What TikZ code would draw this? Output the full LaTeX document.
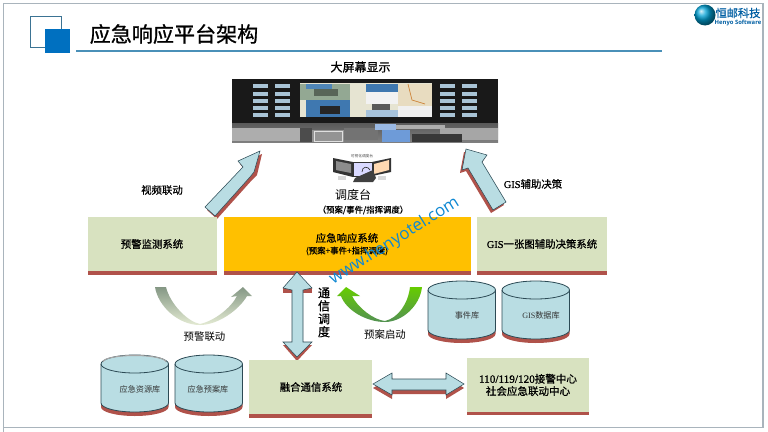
\documentclass[tikz,border=0pt]{standalone}
\usepackage{fontspec}
\setmainfont{Liberation Serif}
\newfontfamily\cjk{Noto Sans CJK SC}
\newfontfamily\cjkm[FakeBold=0.8]{Noto Sans CJK SC}
\newfontfamily\serifm[FakeBold=0.8]{Liberation Serif}
\newfontfamily\wm{Open Sans}
\usetikzlibrary{shadings}
\definecolor{boxgreen}{HTML}{D8E2C0}
\definecolor{barred}{HTML}{B0524A}
\definecolor{orangebox}{HTML}{FFC000}
\definecolor{aqua}{HTML}{B9DDE3}
\definecolor{edge}{HTML}{2C4A55}
\definecolor{corpblue}{HTML}{0070C0}
\definecolor{rule}{HTML}{4A90B8}
\definecolor{framegray}{HTML}{A9B4BC}
\definecolor{tile}{HTML}{A9C4D6}
\definecolor{photogreen}{HTML}{93A893}
\definecolor{skyblue}{HTML}{4F86B8}
\definecolor{deepsky}{HTML}{3F78B0}
\definecolor{mappale}{HTML}{E6E4D2}
\definecolor{mapwarm}{HTML}{E8DCC0}
\definecolor{bandblue}{HTML}{6E9BD8}
\newcommand{\cylshape}[3]{%
  \fill[barred] (#1,#2+10) -- (#1,#3-5) arc[start angle=180,end angle=0,x radius=33.75,y radius=9] -- (#1+67.5,#2+10) -- cycle;
  \filldraw[fill=aqua,draw=edge,line width=0.6pt] (#1,#2+9) -- (#1,#3-9) arc[start angle=180,end angle=0,x radius=33.75,y radius=9] -- (#1+67.5,#2+9) arc[start angle=360,end angle=180,x radius=33.75,y radius=9] -- cycle;
  \draw[edge,line width=0.6pt] (#1,#2+9) arc[start angle=180,end angle=0,x radius=33.75,y radius=9];
}
\tikzset{
  x=0.75pt,y=-0.75pt,
  boxlabel/.style={font=\cjkm\fontsize{7.8pt}{9.4pt}\selectfont,text=black,align=center,inner sep=0pt},
  plainlabel/.style={font=\cjk\fontsize{7.8pt}{9.4pt}\selectfont,text=black,align=center,inner sep=0pt},
  sublabel/.style={font=\cjkm\fontsize{6.3pt}{7pt}\selectfont,text=black,inner sep=0pt},
  dblabel/.style={font=\cjk\fontsize{6.1pt}{7pt}\selectfont,text=black!80,inner sep=0pt},
  blockarrow/.style={fill=aqua,draw=edge,line width=0.4pt,line join=miter},
  arrowshadow/.style={fill=barred},
}
\begin{document}
\begin{tikzpicture}
\useasboundingbox (0,0) rectangle (768,432);
\fill[white] (0,0) rectangle (768,432);
% frame
\draw[framegray,line width=0.9pt] (3.5,432) -- (3.5,3.5) -- (763,3.5) -- (763,427.5) -- (3.5,427.5);
% title decoration
\draw[rule!80!black,line width=0.6pt,fill=white] (30,16) rectangle (61,47);
\fill[corpblue] (45,29) rectangle (70,53);
\draw[rule,line width=1.2pt] (76,51) -- (662,51);
\node[font=\cjkm\fontsize{15.8pt}{18pt}\selectfont,inner sep=0pt,anchor=center] (title) at (174,34) {应急响应平台架构};
% logo
\shade[ball color=cyan!35!corpblue] (705,15) circle[radius=10.5];
\node[font=\cjkm\fontsize{8.4pt}{10pt}\selectfont,text=corpblue!85!black,inner sep=0pt] (logocn) at (738,13) {恒邮科技};
\node[font=\wm\bfseries\fontsize{4.4pt}{5pt}\selectfont,text=corpblue!85!black,inner sep=0pt] (logoen) at (738,23) {Henyo Software};
% big screen
\node[boxlabel,font=\cjkm\fontsize{9pt}{10pt}\selectfont] (screenlabel) at (360.5,67) {大屏幕显示};
\fill[black!90] (232,79) rectangle (498,123);
\shade[top color=black!65,bottom color=black!50] (232,123) rectangle (498,142);
\fill[black!32] (232,128) rectangle (300,141);
\fill[black!70] (300,128) rectangle (312,142);
\fill[black!42] (312,130) rectangle (344,142);
\draw[black!12,line width=0.5pt] (314,131) rectangle (342,141);
\fill[black!55] (344,128) rectangle (378,140);
\fill[black!35] (440,128) rectangle (498,140);
\fill[black!78] (412,134) rectangle (462,142);
\fill[bandblue!70] (375,124) rectangle (396,130);
\fill[bandblue] (382,130) rectangle (410,142);
\fill[black!32] (396,125) rectangle (445,129);
% small tiles
\foreach \yy in {84,91.5,99,106,113}{
  \fill[tile] (253,\yy) rectangle ++(15,4);
  \fill[tile] (275,\yy) rectangle ++(15,4);
  \fill[tile] (440,\yy) rectangle ++(15,4);
  \fill[tile] (462,\yy) rectangle ++(15,4);
}
% mosaic
\fill[mappale] (300,83) rectangle (432,117);
\fill[photogreen] (300,84) rectangle (350,100);
\fill[skyblue] (306,84) rectangle (332,89);
\fill[photogreen!60!black] (314,89) rectangle (338,96);
\fill[deepsky] (306,100) rectangle (350,117);
\fill[black!85] (320,106) rectangle (340,114);
\fill[mappale] (350,84) rectangle (366,117);
\fill[deepsky] (366,84) rectangle (398,92);
\fill[white!90!gray] (366,92) rectangle (398,104);
\fill[black!65] (372,104) rectangle (390,110);
\fill[skyblue!50] (366,110) rectangle (398,117);
\fill[mapwarm] (398,84) rectangle (432,106);
\draw[orange!60!gray,line width=0.5pt] (408,84) -- (412,100) -- (425,104);
\fill[white!88!gray] (398,106) rectangle (432,117);
% arrows to screen
\fill[arrowshadow] (262,154) -- (240,164) -- (245,170) -- (207,210) -- (217,219) -- (252,180) -- (257,175) -- cycle;
\draw[blockarrow] (260,151) -- (238,161) -- (243,167) -- (205,207) -- (215,216) -- (250,177) -- (254,172) -- cycle;
\fill[arrowshadow] (464,152) -- (485,158) -- (480,165) -- (504,205) -- (491,213) -- (466,171) -- (460,173) -- cycle;
\draw[blockarrow] (466,149) -- (487,155) -- (482,162) -- (506,202) -- (493,210) -- (468,168) -- (462,170) -- cycle;
% console icon
\node[font=\cjk\fontsize{2.8pt}{3pt}\selectfont,text=black!70,inner sep=0pt] (consolecap) at (362,156) {可视化调度台};
\fill[black!80] (333,158) -- (353,162) -- (353,177) -- (333,172) -- cycle;
\fill[black!45] (336,161) -- (351,164) -- (351,173) -- (336,170) -- cycle;
\fill[blue!15!white] (353,162) rectangle (372,176);
\draw[black!80,line width=0.4pt] (353,162) rectangle (372,176);
\fill[black!80] (372,162) -- (391,158) -- (391,172) -- (372,176) -- cycle;
\fill[white!70!orange] (374,164) -- (389,160) -- (389,170) -- (374,174) -- cycle;
\fill[black!75] (355,178) -- (373,170) -- (376,178) -- (373,182) -- (353,182) -- cycle;
\draw[black!80,line width=0.5pt] (362,172) .. controls (362,166) and (368,166) .. (370,170);
\fill[black!15] (338,176) rectangle (346,180);
\fill[black!15] (378,176) rectangle (386,180);
\node[font=\cjk\fontsize{9pt}{10pt}\selectfont,inner sep=0pt] (console) at (353,195) {调度台};
\node[sublabel] (consolesub) at (363,210) {（预案/事件/指挥调度）};
% edge labels top
\node[boxlabel] (videolink) at (162,190) {视频联动};
\node[boxlabel] (gisaid) at (533,184) {\serifm GIS\cjkm 辅助决策};
% main row boxes
\fill[boxgreen] (88,217) rectangle (217,271);
\fill[barred] (88,271) rectangle (217,275);
\node[boxlabel] (warn) at (152,244) {预警监测系统};
\fill[orangebox] (224,217) rectangle (471,271);
\fill[barred] (224,271) rectangle (471,275);
\node[boxlabel] (resp) at (347,238) {应急响应系统};
\node[sublabel] (respsub) at (347,251) {(预案+事件+指挥调度)};
\fill[boxgreen] (477,217) rectangle (607,271);
\fill[barred] (477,271) rectangle (607,275);
\node[boxlabel] (gis) at (542,244) {\serifm GIS\cjkm 一张图辅助决策系统};
% curved arrows
\shade[left color=photogreen!90!black,middle color=photogreen!70!black,right color=boxgreen!70!white,shading angle=0]
  (155,287) -- (166,287) .. controls (170,304) and (188,322) .. (200,324)
  .. controls (214,321) and (231,308) .. (237,296) -- (231,297) -- (243,287) -- (252,296) -- (247,296)
  .. controls (239,310) and (218,325) .. (200,325) .. controls (178,325) and (158,306) .. (155,287) -- cycle;
\shade[left color=green!50!yellow!80!black,middle color=green!50!black!80,right color=black!30!green!35!gray,shading angle=0]
  (410,287) -- (422,287) .. controls (420,306) and (402,322) .. (385,322)
  .. controls (366,322) and (346,310) .. (341,296) -- (337,296) -- (346,287) -- (360,296) -- (352,296)
  .. controls (358,308) and (374,320) .. (385,321) .. controls (398,318) and (408,304) .. (410,287) -- cycle;
\node[plainlabel] (warnlink) at (204.5,337) {预警联动};
\node[plainlabel] (planstart) at (385,335) {预案启动};
% vertical double arrow
\fill[arrowshadow] (297,361) -- (283,345) -- (312,345) -- cycle;
\fill[arrowshadow] (283,288) rectangle (292,293);
\fill[arrowshadow] (303,288) rectangle (312,293);
\draw[blockarrow] (297,272) -- (312,288) -- (303,290) -- (303,342) -- (312,342) -- (297,357) -- (283,342) -- (292,342) -- (292,290) -- (283,288) -- cycle;
\node[boxlabel,text width=12pt,font=\cjkm\fontsize{9pt}{9.75pt}\selectfont] (comm) at (324,312.5) {通\\信\\调\\度};
% cylinders
\cylshape{101}{355}{412}
\draw[black!35,line width=0.8pt] (103,362) arc[start angle=180,end angle=360,x radius=31.5,y radius=6.5];
\cylshape{175}{355}{412}
\cylshape{428}{281}{339}
\cylshape{502}{281}{339}
\node[dblabel] (db1) at (140,389) {应急资源库};
\node[dblabel] (db2) at (208,389) {应急预案库};
\node[dblabel] (db3) at (467,315) {事件库};
\node[dblabel] (db4) at (541,315) {\fontspec{Liberation Serif}GIS\cjk 数据库};
% bottom boxes
\fill[boxgreen] (249,360) rectangle (372,414);
\fill[barred] (249,414) rectangle (372,418);
\node[boxlabel] (fusion) at (311,387) {融合通信系统};
\fill[boxgreen] (467,358) rectangle (589,412);
\fill[barred] (467,412) rectangle (589,415);
\node[boxlabel,font=\cjkm\fontsize{7.9pt}{9.2pt}\selectfont] (center) at (528,385) {{\serifm\fontsize{8.4pt}{9.2pt}\selectfont 110/119/120}\cjkm 接警中心\\社会应急联动中心};
% horizontal double arrow
\fill[arrowshadow] (373,388) -- (392,377) -- (392,383) -- (446,383) -- (446,377) -- (464,388) -- (446,399) -- (446,394) -- (392,394) -- (392,399) -- cycle;
\draw[blockarrow] (373,384) -- (392,373) -- (392,379) -- (446,379) -- (446,373) -- (464,384) -- (446,395) -- (446,390) -- (392,390) -- (392,395) -- cycle;
% watermark
\node[font=\wm\fontsize{12.6pt}{14pt}\selectfont,text=cyan!70!blue,rotate=32,inner sep=0pt] (mark) at (394.5,241) {www.henyotel.com};
\end{tikzpicture}
\end{document}
